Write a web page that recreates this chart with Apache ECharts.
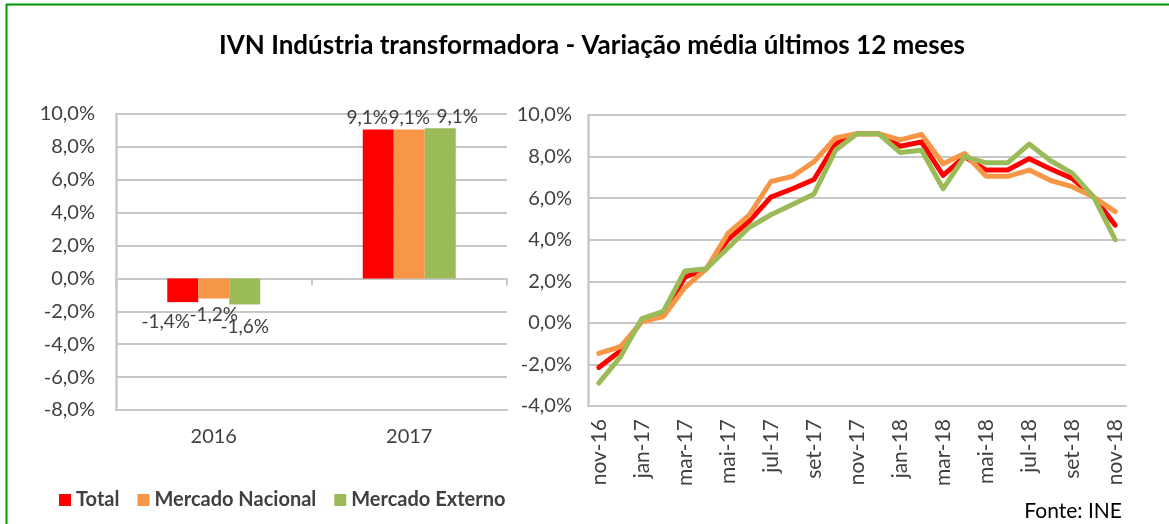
<!DOCTYPE html>
<html>
<head>
<meta charset="utf-8">
<script src="https://cdn.jsdelivr.net/npm/echarts@6/dist/echarts.min.js"></script>
<style>
  html, body { margin: 0; padding: 0; background: #fff; }
  #chart { width: 1169px; height: 524px; }
</style>
</head>
<body>
<div id="chart"></div>
<script>
// annual averages (left panel)
const years = ['2016', '2017']
const yearTotal = [-1.44, 9.06]
const yearNacional = [-1.22, 9.06]
const yearExterno = [-1.58, 9.14]

// rolling 12-month average (right panel)
const months = [
  'nov-16', 'dez-16', 'jan-17', 'fev-17', 'mar-17', 'abr-17', 'mai-17', 'jun-17', 'jul-17',
  'ago-17', 'set-17', 'out-17', 'nov-17', 'dez-17', 'jan-18', 'fev-18', 'mar-18', 'abr-18',
  'mai-18', 'jun-18', 'jul-18', 'ago-18', 'set-18', 'out-18', 'nov-18'
]
const monthTotal = [-2.15, -1.35, 0.1, 0.4, 2.2, 2.6, 4.0, 4.9, 6.05, 6.45, 6.9, 8.6, 9.1,
  9.1, 8.5, 8.7, 7.1, 8.0, 7.35, 7.35, 7.9, 7.4, 6.95, 6.05, 4.7]
const monthNacional = [-1.47, -1.15, 0.05, 0.3, 1.7, 2.6, 4.3, 5.2, 6.8, 7.05, 7.75, 8.9, 9.1,
  9.1, 8.8, 9.06, 7.65, 8.15, 7.05, 7.05, 7.35, 6.85, 6.55, 6.05, 5.35]
const monthExterno = [-2.9, -1.65, 0.2, 0.55, 2.5, 2.6, 3.6, 4.6, 5.2, 5.7, 6.2, 8.3, 9.1,
  9.1, 8.2, 8.3, 6.45, 8.0, 7.7, 7.7, 8.6, 7.8, 7.2, 6.05, 4.0]

const seriesNames = ['Total', 'Mercado Nacional', 'Mercado Externo']
const colors = ['#FF0000', '#F79646', '#9BBB59']

const FONT = 'Lato'
const TXT = '#404040'
const GRID = '#C8C8C8'

const pct = v => v.toFixed(1).replace('.', ',') + '%'

// Excel nudges overlapping data labels sideways
const labelShift = [
  [[-17, 2], [0, -1], [0, 5]],
  [[-11, 0], [0, 0], [17, 0]]
]

function barData(values, s) {
  return values.map((v, i) => ({
    value: v,
    label: {
      position: v < 0 ? 'bottom' : 'top',
      distance: v < 0 ? 8 : 2,
      offset: labelShift[i][s]
    }
  }))
}

const chart = echarts.init(document.getElementById('chart'))

const option = {
  animation: false,
  textStyle: { fontFamily: FONT },
  title: {
    text: 'IVN Indústria transformadora - Variação média últimos 12 meses',
    left: 587,
    textAlign: 'center',
    top: 28,
    textStyle: { fontFamily: FONT, fontSize: 26, fontWeight: 'bold', color: '#000' }
  },
  legend: {
    data: seriesNames,
    left: 54,
    top: 485,
    icon: 'rect',
    itemWidth: 12,
    itemHeight: 12,
    itemGap: 18,
    textStyle: { fontFamily: FONT, fontSize: 20, fontWeight: 'bold', color: TXT }
  },
  grid: [
    { left: 116, right: 662, top: 114, height: 296 },
    { left: 588, right: 43, top: 115, height: 291 }
  ],
  xAxis: [
    {
      type: 'category',
      gridIndex: 0,
      data: years,
      position: 'bottom',
      axisLine: { onZero: false, lineStyle: { color: GRID, width: 2 } },
      axisTick: { show: false },
      axisLabel: { color: TXT, fontSize: 20, fontFamily: FONT, margin: 17 }
    },
    {
      type: 'category',
      gridIndex: 0,
      data: years,
      position: 'bottom',
      axisLine: { onZero: true, lineStyle: { color: GRID, width: 2 } },
      axisTick: { show: true, length: 7, lineStyle: { color: GRID, width: 2 } },
      axisLabel: { show: false }
    },
    {
      type: 'category',
      gridIndex: 1,
      data: months,
      boundaryGap: true,
      axisLine: { onZero: false, lineStyle: { color: GRID, width: 2 } },
      axisTick: { show: false },
      axisLabel: { color: TXT, fontSize: 21, fontFamily: FONT, rotate: 90, interval: 1, margin: 13 }
    }
  ],
  yAxis: [
    {
      type: 'value',
      gridIndex: 0,
      min: -8,
      max: 10,
      interval: 2,
      axisLine: { show: true, lineStyle: { color: GRID, width: 2.5 } },
      axisTick: { show: false },
      splitLine: { lineStyle: { color: GRID, width: 2 } },
      axisLabel: { color: TXT, fontSize: 20, fontFamily: FONT, margin: 21, formatter: pct }
    },
    {
      type: 'value',
      gridIndex: 1,
      min: -4,
      max: 10,
      interval: 2,
      axisLine: { show: true, lineStyle: { color: GRID, width: 2.5 } },
      axisTick: { show: false },
      splitLine: { lineStyle: { color: GRID, width: 2 } },
      axisLabel: { color: TXT, fontSize: 20, fontFamily: FONT, margin: 16, formatter: pct }
    }
  ],
  series: [
    ...[yearTotal, yearNacional, yearExterno].map((vals, s) => ({
      name: seriesNames[s],
      type: 'bar',
      xAxisIndex: 0,
      yAxisIndex: 0,
      barWidth: 31,
      barGap: '0%',
      itemStyle: { color: colors[s] },
      label: {
        show: true,
        color: TXT,
        fontSize: 19,
        fontFamily: FONT,
        formatter: p => pct(p.value)
      },
      data: barData(vals, s)
    })),
    ...[monthTotal, monthNacional, monthExterno].map((vals, s) => ({
      name: seriesNames[s],
      type: 'line',
      xAxisIndex: 2,
      yAxisIndex: 1,
      showSymbol: false,
      symbol: 'none',
      lineStyle: { color: colors[s], width: 5, cap: 'round', join: 'round' },
      itemStyle: { color: colors[s] },
      data: vals
    }))
  ],
  graphic: [
    {
      type: 'line',
      shape: { x1: 6.5, y1: 4, x2: 6.5, y2: 524 },
      style: { stroke: '#009900', lineWidth: 2 }
    },
    {
      type: 'line',
      shape: { x1: 6, y1: 4.5, x2: 1169, y2: 4.5 },
      style: { stroke: '#009900', lineWidth: 2 }
    },
    {
      type: 'text',
      right: 47,
      top: 501,
      style: { text: 'Fonte: INE', fill: '#000', font: '21px Lato' }
    }
  ]
}

chart.setOption(option)
</script>
</body>
</html>
